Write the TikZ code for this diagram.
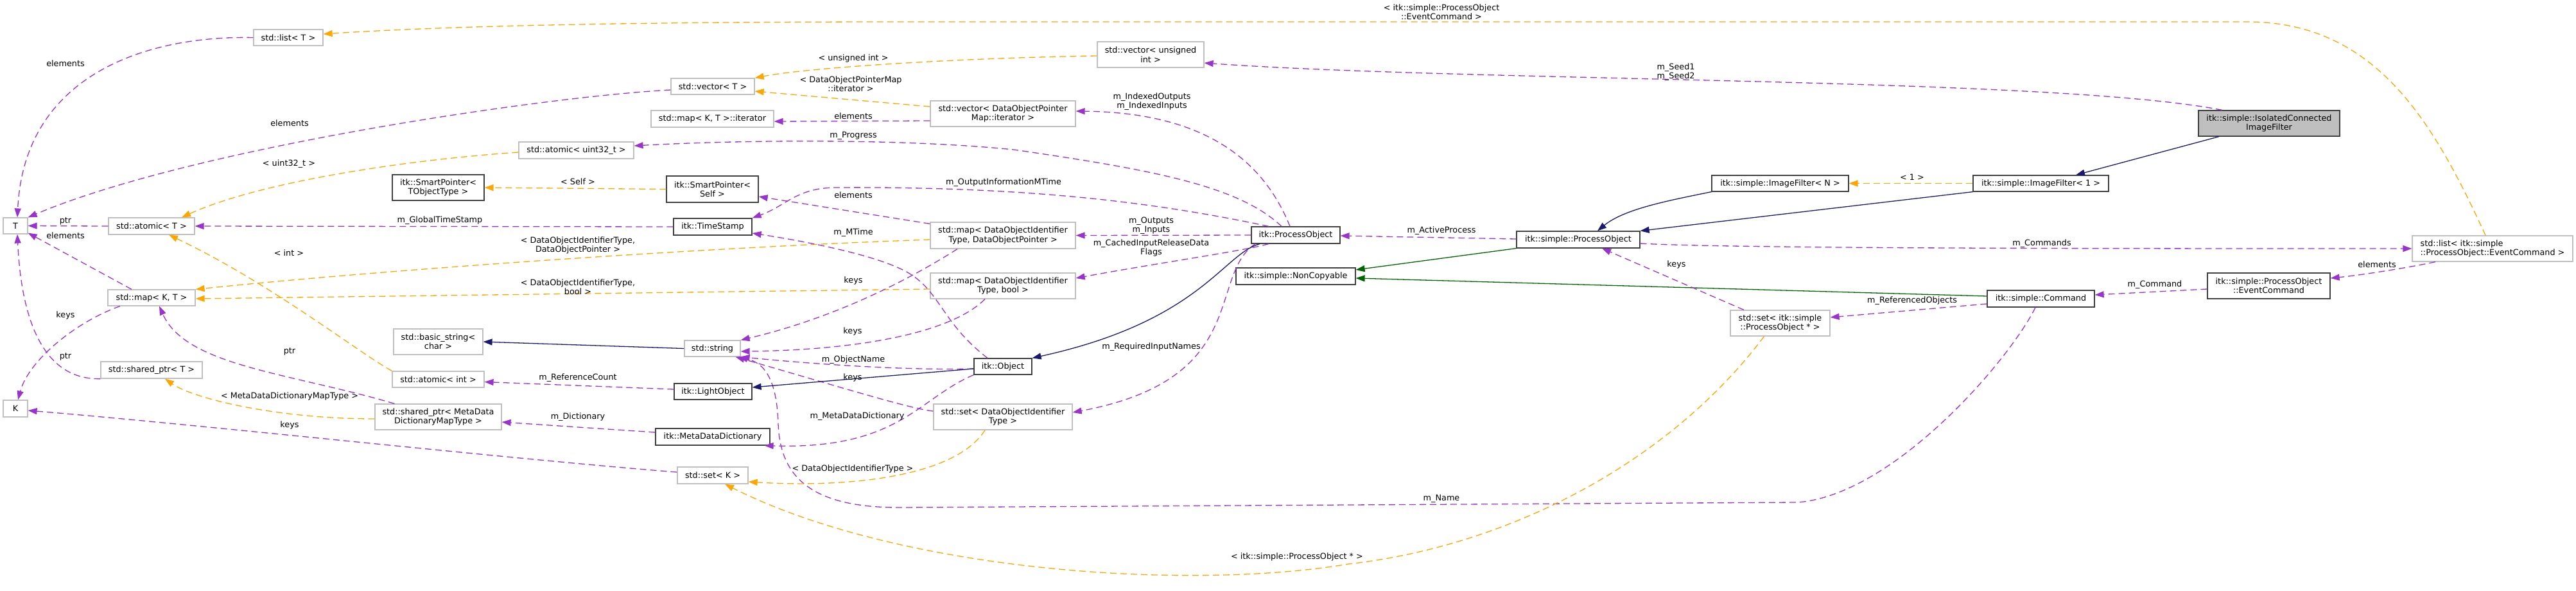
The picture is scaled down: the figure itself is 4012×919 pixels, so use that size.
\documentclass[tikz,border=0pt]{standalone}
\usepackage{fontspec}
\setmainfont{DejaVu Sans}
\usetikzlibrary{arrows.meta}
\definecolor{cpurple}{HTML}{9A32CD}
\definecolor{corange}{HTML}{FFA500}
\definecolor{cnavy}{HTML}{191970}
\definecolor{cgreen}{HTML}{006400}
\definecolor{cgrayb}{HTML}{BFBFBF}
\definecolor{cdark}{HTML}{404040}
\newcommand{\dfs}{\fontsize{12.8}{14.3}\selectfont}
\tikzset{
  cls/.style={draw=cdark, line width=1.2pt, fill=white, inner sep=0pt, align=center, font=\dfs},
  ext/.style={cls, draw=cgrayb},
  lbl/.style={inner sep=0pt, align=center, font=\dfs},
  arr/.style={-{Triangle[length=14pt,width=10pt]}},
  usg/.style={arr, draw=cpurple, dash pattern=on 10pt off 6pt, line width=1.3pt},
  tmpl/.style={arr, draw=corange, dash pattern=on 10pt off 6pt, line width=1.3pt},
  inh/.style={arr, draw=cnavy, line width=1.3pt},
  priv/.style={arr, draw=cgreen, line width=1.3pt},
}
\begin{document}
\begin{tikzpicture}[x=1pt,y=-1pt]
\useasboundingbox[fill=white] (0,0) rectangle (4012,919);
% ---------- nodes ----------
\node[ext, minimum width=38pt, minimum height=25pt] (T) at (24,351.5) {T};
\node[ext, minimum width=38pt, minimum height=26pt] (K) at (24,636) {K};
\node[ext, minimum width=108pt, minimum height=25pt] (listT) at (449,58.5) {std::list< T >};
\node[ext, minimum width=134pt, minimum height=26pt] (atomT) at (236,352) {std::atomic< T >};
\node[ext, minimum width=136pt, minimum height=25pt] (mapKT) at (236,463.5) {std::map< K, T >};
\node[ext, minimum width=158pt, minimum height=26pt] (shT) at (236,576) {std::shared\_ptr< T >};
\node[cls, minimum width=143pt, minimum height=40pt] (spT) at (682.5,292) {itk::SmartPointer<\\TObjectType >};
\node[ext, minimum width=139pt, minimum height=40pt] (bstr) at (682.5,532) {std::basic\_string<\\char >};
\node[ext, minimum width=143pt, minimum height=25pt] (atomI) at (682.5,590.5) {std::atomic< int >};
\node[ext, minimum width=197pt, minimum height=40pt] (shMDD) at (682.5,649) {std::shared\_ptr< MetaData\\DictionaryMapType >};
\node[ext, minimum width=130pt, minimum height=25pt] (vecT) at (1110,134.5) {std::vector< T >};
\node[ext, minimum width=191pt, minimum height=26pt] (mapIt) at (1109.5,185) {std::map< K, T >::iterator};
\node[ext, minimum width=179pt, minimum height=26pt] (atomU) at (897.5,234) {std::atomic< uint32\_t >};
\node[cls, minimum width=143pt, minimum height=41pt] (spS) at (1109.5,294.5) {itk::SmartPointer<\\Self >};
\node[cls, minimum width=122pt, minimum height=26pt] (ts) at (1110,353) {itk::TimeStamp};
\node[ext, minimum width=87pt, minimum height=25pt] (str) at (1109.5,542.5) {std::string};
\node[cls, minimum width=121pt, minimum height=25pt] (lo) at (1110.5,609.5) {itk::LightObject};
\node[cls, minimum width=178pt, minimum height=26pt] (mdd) at (1110,680) {itk::MetaDataDictionary};
\node[ext, minimum width=110pt, minimum height=26pt] (setK) at (1110,740) {std::set< K >};
\node[ext, minimum width=166pt, minimum height=40pt] (vecUI) at (1792,85) {std::vector< unsigned\\int >};
\node[ext, minimum width=226pt, minimum height=40pt] (vecDM) at (1562,177) {std::vector< DataObjectPointer\\Map::iterator >};
\node[ext, minimum width=226pt, minimum height=41pt] (mapDP) at (1562,366.5) {std::map< DataObjectIdentifier\\Type, DataObjectPointer >};
\node[ext, minimum width=226pt, minimum height=40pt] (mapDB) at (1562,445) {std::map< DataObjectIdentifier\\Type, bool >};
\node[cls, minimum width=138pt, minimum height=26pt] (po) at (2018,366) {itk::ProcessObject};
\node[cls, minimum width=186pt, minimum height=26pt] (nc) at (2018,430) {itk::simple::NonCopyable};
\node[cls, minimum width=90pt, minimum height=25pt] (obj) at (1562,570.5) {itk::Object};
\node[ext, minimum width=216pt, minimum height=40pt] (setDI) at (1562,649) {std::set< DataObjectIdentifier\\Type >};
\node[cls, minimum width=192pt, minimum height=26pt] (spo) at (2458,373) {itk::simple::ProcessObject};
\node[cls, minimum width=213pt, minimum height=25pt] (ifN) at (2772.5,285.5) {itk::simple::ImageFilter< N >};
\node[ext, minimum width=155pt, minimum height=40pt] (setPO) at (2772.5,503) {std::set< itk::simple\\::ProcessObject * >};
\node[cls, fill=cgrayb, minimum width=220pt, minimum height=40pt] (main) at (3534,192) {itk::simple::IsolatedConnected\\ImageFilter};
\node[cls, minimum width=211pt, minimum height=25pt] (if1) at (3178.5,285.5) {itk::simple::ImageFilter< 1 >};
\node[cls, minimum width=191pt, minimum height=40pt] (ec) at (3533.5,445) {itk::simple::ProcessObject\\::EventCommand};
\node[cls, minimum width=167pt, minimum height=26pt] (cmd) at (3178.5,465) {itk::simple::Command};
\node[ext, minimum width=250pt, minimum height=40pt, align=left] (listEC) at (3882,387) {std::list< itk::simple\\::ProcessObject::EventCommand >};
% ---------- edges ----------
% into T
\draw[usg] (listT.west) .. controls (230,55) and (38,115) .. ([xshift=3pt]T.north);
\draw[usg] ([yshift=-5.5pt]vecT.west) .. controls (850,150) and (300,230) .. (T.north east);
\draw[usg] (atomT.west) -- (T.east);
\draw[usg] ([xshift=-31pt]mapKT.north) -- ([yshift=2pt]T.south east);
\draw[usg] (shT.south west) .. controls (55,592) and (32,470) .. ([xshift=3pt]T.south);
% into K
\draw[usg] ([xshift=-49pt]mapKT.south) .. controls (120,500) and (45,560) .. ([xshift=4pt]K.north);
\draw[usg] ([yshift=5pt]setK.west) .. controls (800,715) and (300,660) .. ([yshift=-3pt]K.east);
% into atomic<T>
\draw[tmpl] ([yshift=-3pt]atomU.west) .. controls (620,250) and (400,285) .. ([xshift=47pt]atomT.north);
\draw[tmpl] (atomI.north west) .. controls (560,550) and (420,440) .. ([xshift=27pt]atomT.south);
\draw[usg] (ts.west) -- (atomT.east);
% into map<K,T>
\draw[tmpl] ([yshift=-6.5pt]mapDP.west) .. controls (1100,385) and (600,420) .. (mapKT.north east);
\draw[tmpl] ([yshift=-5pt]mapDB.west) -- ([yshift=-1.5pt]mapKT.east);
% into std::string
\draw[usg] ([xshift=-71pt]mapDP.south) .. controls (1440,420) and (1320,490) .. (str.north east);
\draw[usg] ([xshift=-28pt]mapDB.south) .. controls (1480,520) and (1330,545) .. ([yshift=-4.5pt]str.east);
\draw[usg] ([yshift=9pt]setDI.west) .. controls (1420,637) and (1300,600) .. ([xshift=-8pt]str.south east);
\draw[usg] ([yshift=-3.5pt]obj.west) .. controls (1400,577) and (1250,565) .. (str.south east);
\draw[usg] ([xshift=-8.5pt]cmd.south) .. controls (3130,560) and (2950,770) .. (2800,782) -- (1400,790) .. controls (1260,790) and (1215,740) .. (1212,660) .. controls (1210,590) and (1190,565) .. ([xshift=-3pt]str.south east);
\draw[inh] (str.west) -- (bstr.east);
% object family
\draw[inh] ([yshift=-3.5pt]obj.west) -- ([yshift=6.5pt]lo.east);
\draw[usg] ([yshift=3.5pt]lo.west) -- ([yshift=-4pt]atomI.east);
\draw[usg] ([yshift=7pt]mdd.west) -- ([yshift=-8pt]shMDD.east);
\draw[tmpl] ([yshift=-3pt]shMDD.west) .. controls (430,652) and (300,620) .. ([xshift=21pt]shT.south);
\draw[usg] ([xshift=-68pt]shMDD.north) .. controls (450,580) and (290,570) .. ([xshift=12pt]mapKT.south);
\draw[tmpl] (spS.west) -- (spT.east);
% into set<K>
\draw[tmpl] ([xshift=-28pt]setDI.south) .. controls (1490,740) and (1330,760) .. ([yshift=-10pt]setK.east);
\draw[tmpl] ([xshift=-25pt]setPO.south) .. controls (2600,720) and (2350,850) .. (2100,878) .. controls (1850,920) and (1400,890) .. ([xshift=19pt]setK.south);
% itk::ProcessObject
\draw[usg] ([xshift=-9pt]po.north) .. controls (1960,230) and (1850,175) .. ([yshift=4pt]vecDM.east);
\draw[usg] ([xshift=-22pt]po.north) .. controls (1930,290) and (1800,265) .. (1579,233) .. controls (1400,215) and (1150,218) .. ([yshift=7pt]atomU.east);
\draw[usg] ([xshift=-42pt]po.north) .. controls (1800,315) and (1600,290) .. (1300,292) .. controls (1240,293) and (1225,320) .. (ts.north east);
\draw[usg] ([yshift=-3pt]mapDP.north west) -- ([yshift=-11.5pt]spS.east);
\draw[usg] ([yshift=-11pt]vecDM.west) -- ([yshift=-4pt]mapIt.east);
\draw[tmpl] ([yshift=11pt]vecDM.west) -- ([yshift=-7.5pt]vecT.east);
\draw[tmpl] ([yshift=-2pt]vecUI.west) .. controls (1500,90) and (1260,105) .. (vecT.north east);
\draw[usg] (po.west) -- (mapDP.east);
\draw[usg] ([xshift=-42pt]po.south) .. controls (1940,390) and (1800,410) .. ([yshift=12pt]mapDB.east);
\draw[usg] ([xshift=-63pt]po.south) .. controls (1880,430) and (1950,590) .. ([yshift=7pt]setDI.east);
\draw[inh] ([xshift=-56pt]po.south) .. controls (1905,395) and (1870,500) .. (obj.north east);
\draw[usg] ([xshift=-24pt]obj.north) .. controls (1470,505) and (1465,458) .. (1420,428) .. controls (1375,398) and (1250,375) .. ([yshift=-10pt]ts.east);
\draw[usg] (obj.south west) .. controls (1430,620) and (1400,700) .. ([xshift=-9pt]mdd.south east);
% simple side
\draw[usg] ([yshift=1pt]spo.west) -- ([yshift=-1pt]po.east);
\draw[priv] (spo.south west) -- ([yshift=10pt]nc.east);
\draw[priv] ([yshift=4pt]cmd.west) -- ([yshift=-3pt]nc.east);
\draw[inh] (ifN.south west) .. controls (2600,312) and (2530,325) .. ([xshift=30pt]spo.north);
\draw[inh] (if1.south west) -- (spo.north east);
\draw[tmpl] (if1.west) -- (ifN.east);
\draw[inh] ([xshift=-78pt]main.south) -- ([xshift=54.5pt]if1.north);
\draw[usg] ([xshift=-73pt]main.north) .. controls (3200,120) and (2300,128) .. ([yshift=-13pt]vecUI.east);
\draw[usg] ([yshift=-6pt]spo.east) .. controls (2700,387) and (3300,387) .. (listEC.west);
\draw[usg] ([xshift=-89pt]listEC.south) .. controls (3760,415) and (3680,428) .. ([yshift=12pt]ec.east);
\draw[usg] ([yshift=-5pt]ec.west) -- ([yshift=6pt]cmd.east);
\draw[usg] ([yshift=-8pt]cmd.west) -- ([yshift=9pt]setPO.east);
\draw[usg] ([xshift=-56.5pt]setPO.north) -- ([xshift=37pt]spo.south);
\draw[tmpl] ([xshift=-11pt]listEC.north) .. controls (3790,190) and (3700,34) .. (3500,34) -- (1400,34) .. controls (1000,34) and (700,40) .. ([yshift=5.5pt]listT.east);
% ---------- labels ----------
\node[lbl] (l01) at (102,99) {elements};
\node[lbl] (l02) at (451,192) {elements};
\node[lbl] (l03) at (450,255) {< uint32\_t >};
\node[lbl] (l04) at (102,344) {ptr};
\node[lbl] (l05) at (102,367) {elements};
\node[lbl] (l06) at (450,394) {< int >};
\node[lbl] (l07) at (102,491) {keys};
\node[lbl] (l08) at (102,555) {ptr};
\node[lbl] (l09) at (451,547) {ptr};
\node[lbl] (l10) at (451,617) {< MetaDataDictionaryMapType >};
\node[lbl] (l11) at (451,662) {keys};
\node[lbl] (l12) at (1329,91) {< unsigned int >};
\node[lbl] (l13) at (1325,131) {< DataObjectPointerMap\\::iterator >};
\node[lbl] (l14) at (1329,181) {elements};
\node[lbl] (l15) at (1329,211) {m\_Progress};
\node[lbl] (l16) at (900,283) {< Self >};
\node[lbl] (l17) at (1329,304) {elements};
\node[lbl] (l18) at (685,343) {m\_GlobalTimeStamp};
\node[lbl] (l19) at (900,382) {< DataObjectIdentifierType,\\DataObjectPointer >};
\node[lbl] (l20) at (1329,362) {m\_MTime};
\node[lbl] (l21) at (1329,437) {keys};
\node[lbl] (l22) at (900,447) {< DataObjectIdentifierType,\\bool >};
\node[lbl] (l23) at (1328,516) {keys};
\node[lbl] (l24) at (1329,560) {m\_ObjectName};
\node[lbl] (l25) at (900,588) {m\_ReferenceCount};
\node[lbl] (l26) at (1328,588) {keys};
\node[lbl] (l27) at (900,649) {m\_Dictionary};
\node[lbl] (l28) at (1335,648) {m\_MetaDataDictionary};
\node[lbl] (l29) at (1328,730) {< DataObjectIdentifierType >};
\node[lbl] (l30) at (2020,867) {< itk::simple::ProcessObject * >};
\node[lbl] (l31) at (1794,158) {m\_IndexedOutputs\\m\_IndexedInputs};
\node[lbl] (l32) at (1563,284) {m\_OutputInformationMTime};
\node[lbl] (l33) at (1793,351) {m\_Outputs\\m\_Inputs};
\node[lbl] (l34) at (1793,386) {m\_CachedInputReleaseData\\Flags};
\node[lbl] (l35) at (1793,540) {m\_RequiredInputNames};
\node[lbl] (l36) at (2245,19) {< itk::simple::ProcessObject\\::EventCommand >};
\node[lbl] (l37) at (2610,112) {m\_Seed1\\m\_Seed2};
\node[lbl] (l38) at (2245,359) {m\_ActiveProcess};
\node[lbl] (l39) at (2611,412) {keys};
\node[lbl] (l40) at (2245,776) {m\_Name};
\node[lbl] (l41) at (2978,276) {< 1 >};
\node[lbl] (l42) at (3180,379) {m\_Commands};
\node[lbl] (l43) at (3356,443) {m\_Command};
\node[lbl] (l44) at (2978,468) {m\_ReferencedObjects};
\node[lbl] (l45) at (3702,412) {elements};
\end{tikzpicture}
\end{document}
